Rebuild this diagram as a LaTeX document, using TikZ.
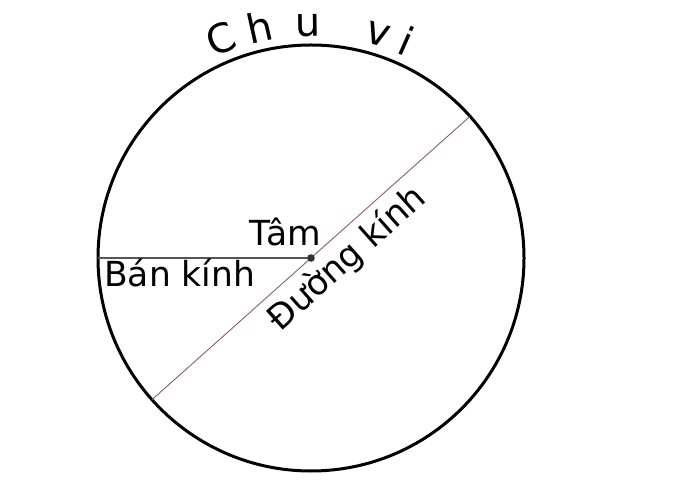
\documentclass[tikz,border=0pt]{standalone}
\usepackage{fontspec}
\setmainfont{DejaVu Sans}
\usetikzlibrary{calc}
\definecolor{diamcol}{RGB}{140,95,95}
\definecolor{radcol}{RGB}{85,85,85}
\tikzset{
	lbl/.style={inner sep=0pt, font=\fontsize{34.5}{41}\selectfont},
	arclbl/.style={inner sep=0pt, anchor=base, font=\fontsize{40}{48}\selectfont}
}
\begin{document}
\begin{tikzpicture}[x=1pt, y=1pt]
				\useasboundingbox (0,0) rectangle (700,500);
				\coordinate (O) at (311,242);
				\draw[line width=3pt] (O) circle (213);
				\coordinate (R) at ($(O)+(180:213)$);
				\coordinate (D1) at ($(O)+(221.7:213)$);
				\coordinate (D2) at ($(O)+(41.7:213)$);
				\draw[radcol, line width=1.1pt] (O) -- (R);
				\draw[diamcol, line width=0.9pt] (D1) -- (D2);
				\fill[black!80] (O) circle (3.8);
				\node[lbl, anchor=base west] (tam) at (249,254) {Tâm};
				\node[lbl, anchor=base west] (bankinh) at (104,213.5) {Bán kính};
				\node[lbl, anchor=base, rotate=41.7] (duongkinh) at (354,233.5) {Đường kính};
				\foreach \l/\a in {C/112.3, h/102.5, u/90.8, v/73.3, i/66.3}
					\node[arclbl, rotate=\a-90] (chuvi-\l) at ($(O)+(\a:222)$) {\l}; %letters along the arc
			\end{tikzpicture}
\end{document}
